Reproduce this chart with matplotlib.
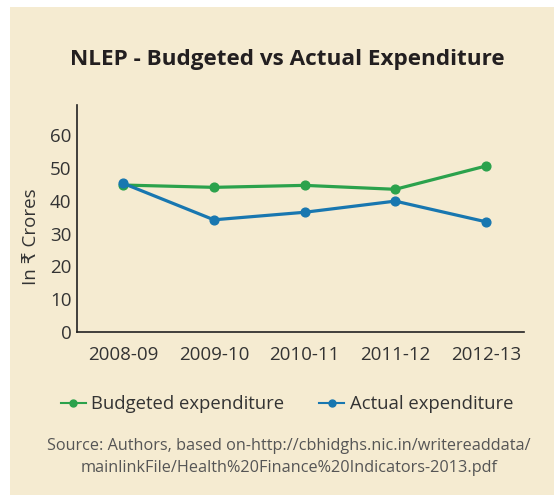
import matplotlib
matplotlib.use("Agg")
import matplotlib.pyplot as plt
from matplotlib.patches import Rectangle
from matplotlib.lines import Line2D

years = ["2008-09", "2009-10", "2010-11", "2011-12", "2012-13"]
budgeted = [44.8, 44.1, 44.7, 43.5, 50.6]
actual = [45.3, 34.2, 36.5, 39.9, 33.6]
yticks = [0, 10, 20, 30, 40, 50, 60]

BG = "#f5ebd1"
GREEN = "#2ba24c"
BLUE = "#1877b0"
TXT = "#333333"
FONT = ["Open Sans", "DejaVu Sans"]

plt.rcParams["font.family"] = FONT

W, H = 554, 497
fig = plt.figure(figsize=(W / 100, H / 100), dpi=100, facecolor="white")
fig.patches.append(Rectangle((10 / W, 2 / H), 544 / W, 488 / H, transform=fig.transFigure,
                             facecolor=BG, edgecolor="none", zorder=-10))

ax = fig.add_axes([77 / W, 1 - 332 / H, (524 - 77) / W, (332 - 105) / H])
ax.set_zorder(5)
ax.patch.set_alpha(0)

x = list(range(len(years)))
ax.plot(x, budgeted, color=GREEN, lw=2.3, marker="o", ms=6.3, zorder=3)
ax.plot(x, actual, color=BLUE, lw=2.3, marker="o", ms=6.3, zorder=4)

ax.set_xlim(-0.51, 4.42)
ax.set_ylim(0, 69.2)
ax.set_xticks(x)
ax.set_xticklabels(years)
ax.set_yticks(yticks)
for s in ["top", "right"]:
    ax.spines[s].set_visible(False)
for s in ["left", "bottom"]:
    ax.spines[s].set_color("#222222")
    ax.spines[s].set_linewidth(1.2)
ax.tick_params(axis="both", length=0, labelsize=13.5, colors=TXT)
ax.tick_params(axis="x", pad=10)
ax.tick_params(axis="y", pad=4)

ax.set_ylabel("In ₹ Crores", fontsize=13.5, color=TXT, va="center", ha="center")
ax.yaxis.set_label_coords(-0.103, 0.42)

fig.text(287 / W, 1 - 60 / H, "NLEP - Budgeted vs Actual Expenditure", ha="center", va="center",
         fontsize=16.2, fontweight="bold", color="#231f20")

handles = [Line2D([], [], color=GREEN, lw=1.5, marker="o", ms=5),
           Line2D([], [], color=BLUE, lw=1.5, marker="o", ms=5)]
fig.legend(handles, ["Budgeted expenditure", "Actual expenditure"], loc="center",
           bbox_to_anchor=(287 / W, 1 - 404 / H), ncol=2, frameon=False, fontsize=13.3,
           handlelength=1.35, handletextpad=0.3, columnspacing=1.9, labelcolor=TXT,
           borderpad=0, borderaxespad=0)

fig.text(289 / W, 1 - 457 / H,
         "Source: Authors, based on-http://cbhidghs.nic.in/writereaddata/\nmainlinkFile/Health%20Finance%20Indicators-2013.pdf",
         ha="center", va="center", fontsize=11.7, color="#555555", linespacing=1.45)

fig.savefig("out.png", dpi=100, facecolor="white")
